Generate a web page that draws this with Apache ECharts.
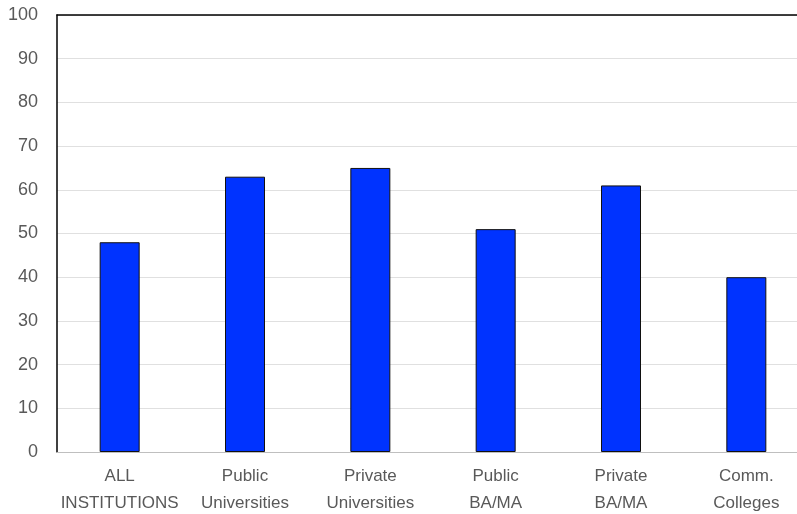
<!DOCTYPE html>
<html>
<head>
<meta charset="utf-8">
<script src="https://cdn.jsdelivr.net/npm/echarts@6/dist/echarts.min.js"></script>
<style>
  html, body { margin: 0; padding: 0; background: #fff; overflow: hidden; }
  #wrap { width: 797px; height: 514px; overflow: hidden; }
  #chart { width: 809px; height: 514px; }
</style>
</head>
<body>
<div id="wrap"><div id="chart"></div></div>
<script>
// Institution types and their percentages
const categories = ['ALL\nINSTITUTIONS', 'Public\nUniversities', 'Private\nUniversities', 'Public\nBA/MA', 'Private\nBA/MA', 'Comm.\nColleges'];
const values = [48, 63, 65, 51, 61, 40];
const yTicks = { min: 0, max: 100, interval: 10 };

const font = '"Liberation Sans", Arial, sans-serif';
const chart = echarts.init(document.getElementById('chart'));
chart.setOption({
  animation: false,
  grid: { left: 57, right: 0, top: 15, bottom: 62, containLabel: false, outerBoundsMode: 'none' },
  xAxis: [
    {
      type: 'category',
      data: categories,
      axisLine: { lineStyle: { color: '#bfbfbf', width: 1 } },
      axisTick: { show: false },
      axisLabel: { interval: 0, color: '#595959', fontFamily: font, fontSize: 17, lineHeight: 27, margin: 11 }
    },
    {
      type: 'category',
      position: 'top',
      data: categories,
      axisLine: { show: true, lineStyle: { color: '#000', width: 1.5 } },
      axisTick: { show: false },
      axisLabel: { show: false }
    }
  ],
  yAxis: {
    type: 'value',
    min: yTicks.min, max: yTicks.max, interval: yTicks.interval,
    axisLine: { show: true, lineStyle: { color: '#000', width: 1.5 } },
    axisTick: { show: false },
    splitLine: { lineStyle: { color: '#e0e0e0', width: 1 } },
    axisLabel: { color: '#595959', fontFamily: font, fontSize: 18, margin: 19 }
  },
  series: [{
    type: 'bar',
    data: values,
    barWidth: 40,
    itemStyle: { color: '#0033ff', borderColor: '#111', borderWidth: 1 }
  }]
});
</script>
</body>
</html>
